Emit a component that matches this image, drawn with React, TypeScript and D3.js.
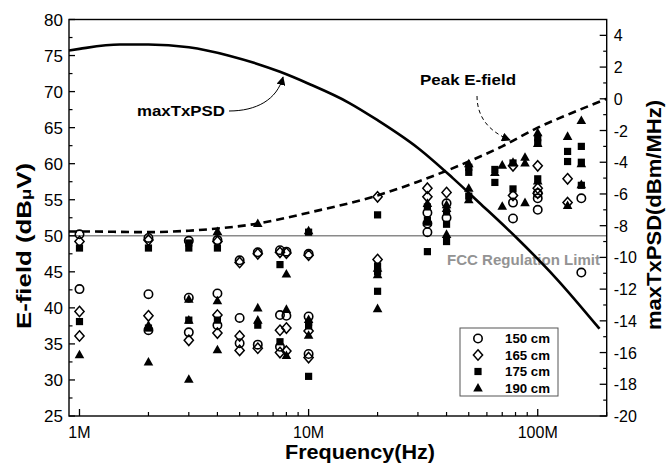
import React from 'react';
import * as d3 from 'd3';

const W = 666, H = 466;

const freqMajor = [1e6, 1e7, 1e8];
const freqLabels = ['1M', '10M', '100M'];
const leftTicks = [25, 30, 35, 40, 45, 50, 55, 60, 65, 70, 75, 80];
const rightTicks = [-20, -18, -16, -14, -12, -10, -8, -6, -4, -2, 0, 2, 4];
const legendLabels = ['150 cm', '165 cm', '175 cm', '190 cm'];

// maxTxPSD curve (MHz, dBm/MHz) on right axis
const maxTxPSD: [number, number][] = [[0.9, 3.05], [1, 3.15], [1.5, 3.42], [2, 3.42], [3, 3.25], [4.5, 2.72], [7.5, 1.7], [10, 0.95], [15, -0.25], [20, -1.35], [30, -3.1], [42.6, -5.0], [55.6, -6.55], [80, -8.7], [120, -11.3], [186, -14.5]];
// Peak E-field (MHz, dBuV) on left axis
const peakEField: [number, number][] = [[0.9, 50.6], [1, 50.6], [2, 50.5], [3, 50.7], [4, 51.0], [6, 51.7], [8, 52.5], [10, 53.2], [20, 55.6], [30, 57.5], [50, 60.3], [70, 62.4], [100, 65.0], [140, 67.0], [200, 69.0]];
const fccLimit = 50;

const s150: [number, number][] = [[1, 50.2], [1, 42.6], [2, 49.7], [2, 41.9], [2, 36.9], [3, 49.3], [3, 41.4], [3, 36.6], [4, 49.4], [4, 42.0], [4, 37.6], [5, 46.6], [5, 38.6], [5, 35.1], [6, 47.7], [6, 34.9], [7.5, 48.0], [7.5, 39.0], [7.5, 34.6], [8, 47.8], [8, 38.9], [10, 47.5], [10, 38.8], [10, 33.6], [33, 53.2], [33, 51.7], [33, 50.5], [40, 54.5], [40, 52.5], [78, 54.6], [78, 52.4], [100, 55.9], [100, 55.2], [100, 53.6], [155, 55.2], [155, 44.9]];
const s165: [number, number][] = [[1, 49.2], [1, 39.5], [1, 36.1], [2, 49.4], [2, 38.9], [3, 35.5], [4, 49.2], [4, 39.0], [4, 36.5], [5, 46.3], [5, 36.1], [5, 34.1], [6, 47.5], [6, 34.4], [7.5, 47.7], [7.5, 36.9], [7.5, 33.8], [8, 47.6], [8, 37.2], [8, 34.0], [10, 47.3], [10, 36.8], [10, 33.1], [20, 55.4], [20, 46.7], [33, 56.6], [33, 55.4], [40, 56.0], [78, 59.7], [78, 55.6], [100, 59.7], [100, 56.6], [100, 55.9], [135, 57.9], [135, 54.6]];
const s175: [number, number][] = [[1, 48.3], [1, 38.1], [2, 48.3], [2, 37.2], [3, 49.0], [3, 48.3], [3, 38.3], [4, 48.3], [4, 38.3], [6, 37.6], [7.5, 46.0], [7.5, 35.3], [10, 50.5], [10, 38.0], [10, 37.5], [10, 30.5], [20, 52.9], [20, 45.8], [20, 45.0], [20, 42.3], [33, 54.0], [33, 52.2], [33, 47.8], [40, 53.3], [40, 51.6], [40, 49.2], [50, 59.5], [50, 58.8], [50, 55.5], [65, 59.2], [65, 57.4], [78, 60.1], [78, 56.5], [100, 63.6], [100, 62.9], [100, 57.9], [135, 61.7], [135, 60.3], [155, 62.4], [155, 60.2], [155, 57.0]];
const s190: [number, number][] = [[1, 33.5], [2, 37.6], [2, 32.5], [3, 41.2], [3, 38.3], [3, 30.1], [4, 50.6], [4, 41.0], [4, 34.2], [6, 51.7], [6, 40.0], [6, 38.3], [8, 44.7], [8, 39.8], [8, 33.4], [10, 50.7], [10, 38.4], [10, 36.2], [20, 45.5], [20, 44.6], [20, 39.9], [33, 54.5], [33, 51.9], [40, 54.3], [40, 53.8], [40, 50.2], [50, 60.0], [50, 56.6], [50, 55.0], [65, 58.8], [70, 59.8], [70, 54.1], [78, 60.2], [88, 60.9], [88, 60.1], [88, 54.6], [100, 64.3], [100, 62.8], [100, 57.6], [135, 63.8], [135, 54.2], [155, 66.0], [155, 60.0], [155, 57.1]];

const L = 69, R = 606.7, T = 19.5, B = 416;
const FONT = 'Liberation Sans, Arial, Helvetica, sans-serif';

function Marker({ type, x, y }: { type: string; x: number; y: number }) {
  if (type === 'circle') return <circle cx={x} cy={y} r={4.2} fill="none" stroke="#000" strokeWidth={1.6} />;
  if (type === 'diamond') return <path d={`M${x},${y - 5.2}L${x + 4.6},${y}L${x},${y + 5.2}L${x - 4.6},${y}Z`} fill="none" stroke="#000" strokeWidth={1.5} />;
  if (type === 'square') return <rect x={x - 3.6} y={y - 3.6} width={7.2} height={7.2} fill="#000" />;
  return <path d={`M${x},${y - 5}L${x + 4.8},${y + 3.6}L${x - 4.8},${y + 3.6}Z`} fill="#000" />;
}

export default function App() {
  const x = d3.scaleLog().domain([0.9e6, 2e8]).range([L, R]);
  const yL = d3.scaleLinear().domain([25, 80]).range([B, T]);
  const yR = d3.scaleLinear().domain([-20, 5]).range([B, T]);

  const minorX: number[] = [];
  for (const dec of [1e6, 1e7, 1e8]) for (let k = 2; k <= 9; k++) { const v = k * dec; if (v <= 2e8) minorX.push(v); }
  const minorL = d3.range(27.5, 80, 5);
  const minorR = d3.range(-19, 5, 2);

  const lineR = d3.line<[number, number]>().x(d => x(d[0] * 1e6)).y(d => yR(d[1])).curve(d3.curveMonotoneX);
  const lineL = d3.line<[number, number]>().x(d => x(d[0] * 1e6)).y(d => yL(d[1])).curve(d3.curveMonotoneX);

  const series: [string, [number, number][]][] = [['circle', s150], ['diamond', s165], ['square', s175], ['triangle', s190]];

  return (
    <svg width={W} height={H} style={{ position: 'fixed', left: 0, top: 0, background: '#fff' }} fontFamily={FONT}>
      <defs>
        <marker id="ah" viewBox="0 0 10 10" refX="9" refY="5" markerWidth="9" markerHeight="9" markerUnits="userSpaceOnUse" orient="auto">
          <path d="M0,0L10,5L0,10Z" fill="#000" />
        </marker>
      </defs>
      {/* FCC limit */}
      <line x1={L} x2={R} y1={yL(fccLimit)} y2={yL(fccLimit)} stroke="#8a8a8a" strokeWidth={1.6} />
      <text x={447} y={265} fontSize={15.5} fontWeight="bold" fill="#939393" textLength={153} lengthAdjust="spacingAndGlyphs">FCC Regulation Limit</text>

      {/* scatter */}
      {series.map(([t, arr]) => arr.map((d, i) => <Marker key={t + i} type={t} x={x(d[0] * 1e6)} y={yL(d[1])} />))}

      {/* curves */}
      <path d={lineL(peakEField) || ''} fill="none" stroke="#000" strokeWidth={2.6} strokeDasharray="8,5" />
      <path d={lineR(maxTxPSD) || ''} fill="none" stroke="#000" strokeWidth={2.6} />

      {/* annotations */}
      <text x={137} y={116} fontSize={15.5} fontWeight="bold" textLength={88} lengthAdjust="spacingAndGlyphs">maxTxPSD</text>
      <path d="M229,111 C256,111 277,100 283,77" fill="none" stroke="#000" strokeWidth={1} markerEnd="url(#ah)" />
      <text x={420} y={85} fontSize={15.5} fontWeight="bold" textLength={96} lengthAdjust="spacingAndGlyphs">Peak E-field</text>
      <path d="M477,96 C477,118 490,132 510,140" fill="none" stroke="#000" strokeWidth={1} strokeDasharray="4,3" markerEnd="url(#ah)" />

      {/* frame */}
      <rect x={L} y={T} width={R - L} height={B - T} fill="none" stroke="#000" strokeWidth={1.4} />

      {/* x ticks */}
      {freqMajor.map((v, i) => (
        <g key={'xm' + i}>
          <line x1={x(v)} x2={x(v)} y1={B} y2={B - 7} stroke="#000" strokeWidth={1.3} />
          <text x={x(v)} y={438} fontSize={16} textAnchor="middle">{freqLabels[i]}</text>
        </g>
      ))}
      {minorX.map((v, i) => <line key={'xn' + i} x1={x(v)} x2={x(v)} y1={B} y2={B - 4} stroke="#000" strokeWidth={1.2} />)}

      {/* left ticks */}
      {leftTicks.map((v, i) => (
        <g key={'lm' + i}>
          <line x1={L} x2={L + 6} y1={yL(v)} y2={yL(v)} stroke="#000" strokeWidth={1.3} />
          <text x={L - 6} y={yL(v) + 6} fontSize={17} textAnchor="end">{v}</text>
        </g>
      ))}
      {minorL.map((v, i) => <line key={'ln' + i} x1={L} x2={L + 3.5} y1={yL(v)} y2={yL(v)} stroke="#000" strokeWidth={1.2} />)}

      {/* right ticks */}
      {rightTicks.map((v, i) => (
        <g key={'rm' + i}>
          <line x1={R} x2={R - 7} y1={yR(v)} y2={yR(v)} stroke="#000" strokeWidth={1.3} />
          <text x={R + 7} y={yR(v) + 6} fontSize={16} textAnchor="start">{v}</text>
        </g>
      ))}
      {minorR.map((v, i) => <line key={'rn' + i} x1={R} x2={R - 3.5} y1={yR(v)} y2={yR(v)} stroke="#000" strokeWidth={1.2} />)}

      {/* axis titles */}
      <text x={360} y={459} fontSize={21} fontWeight="bold" textAnchor="middle" textLength={150} lengthAdjust="spacingAndGlyphs">Frequency(Hz)</text>
      <text transform="translate(31,246) rotate(-90)" fontSize={21} fontWeight="bold" textAnchor="middle" textLength={166} lengthAdjust="spacingAndGlyphs">E-field (dB<tspan fontSize={15}>μ</tspan>V)</text>
      <text transform="translate(661,215) rotate(-90)" fontSize={20} fontWeight="bold" textAnchor="middle" textLength={230} lengthAdjust="spacingAndGlyphs">maxTxPSD(dBm/MHz)</text>

      {/* legend */}
      <rect x={460} y={328} width={98} height={68} fill="#fff" stroke="#555" strokeWidth={1} />
      {legendLabels.map((lab, i) => {
        const cy = 338.5 + i * 16.5;
        return (
          <g key={'lg' + i}>
            <Marker type={series[i][0]} x={478} y={cy} />
            <text x={505} y={cy + 4.5} fontSize={13.5} fontWeight="bold" textLength={45} lengthAdjust="spacingAndGlyphs">{lab}</text>
          </g>
        );
      })}
    </svg>
  );
}
